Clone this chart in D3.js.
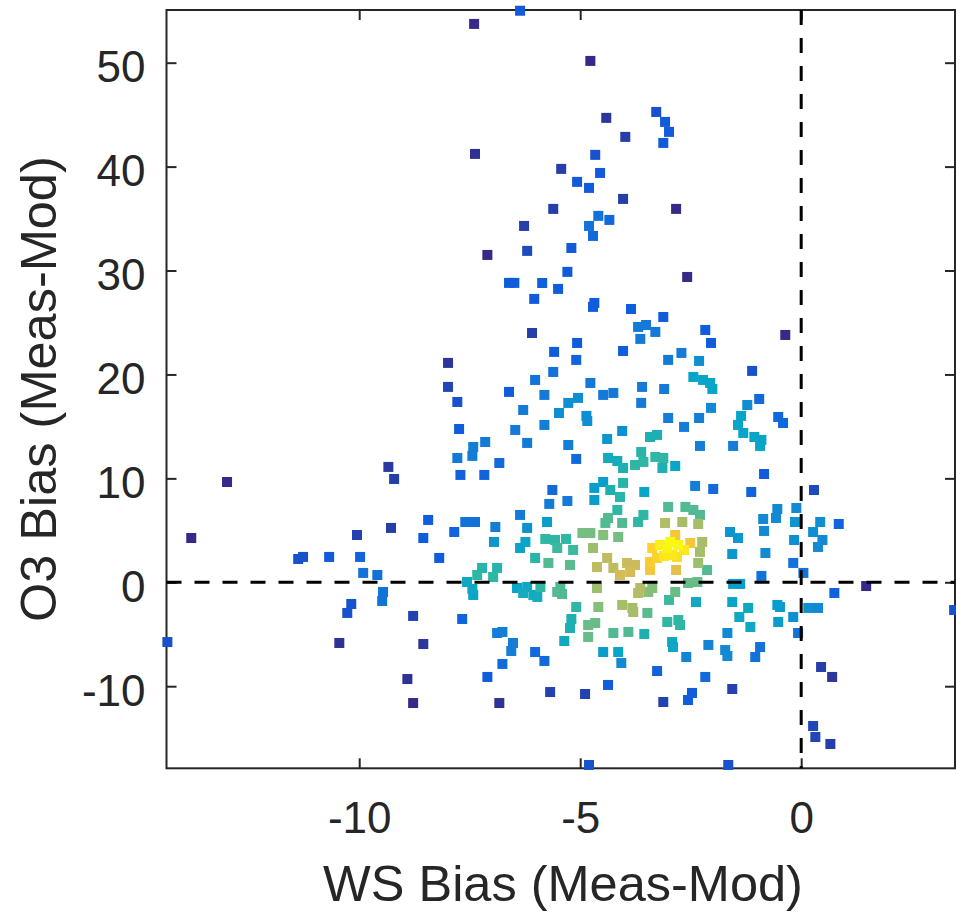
<!DOCTYPE html>
<html>
<head>
<meta charset="utf-8">
<script src="https://cdn.jsdelivr.net/npm/d3@7"></script>
<style>
  body { margin: 0; background: #fff; }
  svg { display: block; font-family: "Liberation Sans", Arial, Helvetica, sans-serif; }
</style>
</head>
<body>
<svg id="chart"></svg>
<script>
// WS bias vs O3 bias scatter, squares coloured by point density (parula-like)

const xTicks = [-10, -5, 0];
const yTicks = [-10, 0, 10, 20, 30, 40, 50];
const xLabel = "WS Bias (Meas-Mod)";
const yLabel = "O3 Bias (Meas-Mod)";

// x = WS bias, y = O3 bias, d = relative density (0..1)
const wsBias = [
  -7.40,-6.36,-4.77,-4.41,-3.98,-3.28,-3.08,-2.99,-3.12,-7.38,-4.66,-5.43,-4.55,-5.07,-4.80,-4.03,-2.83,-5.61,-4.59,-4.34,-4.80,-4.71,-6.27,-7.10,-6.20,-5.20,-5.29,-2.58,
  -6.61,-6.49,-5.86,-5.50,-6.04,-4.68,-4.71,-3.85,-3.12,-3.69,-3.51,-3.30,-3.64,-6.09,-5.07,-5.59,-5.09,-4.03,-3.01,-2.71,-2.31,-2.17,-2.04,-0.36,-1.11,-5.61,-6.02,-4.77,-6.61,-5.81,-4.48,-4.25,-3.60,-3.10,-2.44,-2.22,-2.06,-2.01,-6.29,-5.27,-5.05,-5.48,-4.86,-4.84,-5.81,-6.47,-4.05,-3.62,-3.01,-2.65,-2.31,-2.04,-0.95,-1.22,-1.36,-1.43,-1.31,-1.06,-0.90,-0.93,-0.52,-0.41,-1.54,-2.29,-3.42,-3.26,-7.99,-7.99,-7.78,-7.74,-4.39,-5.27,-6.20,
  -7.78,-7.71,-7.17,-7.15,-7.42,-7.44,-6.83,-9.34,-9.21,-8.44,-8.55,-9.28,-7.85,-7.60,-7.38,-6.92,-6.95,-8.19,-9.59,-9.46,-9.48,-7.22,-6.88,-7.33,-6.97,-7.56,-7.44,-6.36,-6.20,-6.36,-6.43,-5.09,-4.37,-4.16,-4.03,-3.62,-3.76,-3.57,-3.30,-3.12,-3.14,-5.63,-5.70,-5.29,-4.68,-4.48,-4.68,-4.32,-4.10,-4.03,-3.55,-4.16,-4.43,-4.37,-4.05,-3.69,-3.57,-3.08,-3.01,-5.75,-6.24,-5.79,-5.57,-5.32,-5.52,-5.16,-4.95,-4.77,-4.48,-4.14,-4.71,-6.02,-5.72,-5.23,-4.39,-4.62,-4.25,-3.94,-3.76,-4.10,-3.87,-3.37,-3.42,-3.42,-3.19,-3.03,-2.92,-5.90,-5.45,-4.62,-3.64,-3.37,-6.20,-2.85,-2.40,-1.99,-0.84,-1.13,0.29,-0.54,-0.57,-0.86,-0.84,-0.11,-0.14,0.43,0.27,0.48,0.38,-0.16,-1.61,-1.43,-1.56,-0.81,-0.18,0.05,-0.90,-1.54,-1.38,-2.62,-2.44,-2.29,-2.69,-2.33,-2.85,-2.51,-2.24,-2.29,-2.33,-2.13,-2.83,-2.56,-2.35,-2.85,
  -2.96,-2.78,-2.65,-3.10,-2.81,-3.26,
  0.85,1.47,3.46,-12.99,-13.80,-10.05,-11.38,-11.27,-10.68,-9.98,-9.91,-10.27,-10.18,-8.78,-8.55,-10.45,-8.91,-8.78,-14.34,
  -7.67,-7.42,-6.88,-6.76,-6.52,-6.56,-6.76,-7.10,-6.83,-6.02,-5.81,-5.68,-4.89,-4.80,-6.29,-6.06,-5.97,-5.52,-5.41,-5.09,-5.20,-5.23,-5.36,-4.82,-4.66,-4.82,-4.59,-4.05,-3.82,-3.80,-3.69,-3.46,-3.48,-2.99,-3.03,-2.78,-2.74,-2.38,-4.25,-3.91,-3.55,-2.92,-2.90,-4.48,-4.14,-4.07,-2.60,-2.10,-1.72,-1.67,-1.56,-1.20,-1.40,-1.15,-1.67,-0.54,-0.48,-0.52,-0.18,0.16,0.38,-0.07,-0.93,-1.04,-3.26,-2.17,-4.37,-2.47,-2.56,-1.56,-3.12,-1.65,0.45,0.70,0.27,0.32,0.66,0.75
];

const o3Bias = [
  53.73,55.0,50.17,44.69,42.86,45.26,44.30,43.34,42.28,41.22,41.13,39.78,39.39,38.53,37.95,36.89,35.93,35.93,35.26,34.87,34.29,33.33,34.29,31.50,31.89,32.17,29.87,29.38,
  28.81,28.81,28.80,28.23,27.27,26.88,26.50,26.30,25.53,24.57,24.76,24.09,23.42,23.99,23.03,22.17,21.40,22.26,21.40,22.07,21.30,24.28,23.03,23.80,20.34,20.24,19.47,19.18,18.32,18.03,18.03,18.22,18.80,18.60,19.76,19.47,19.18,18.60,16.58,17.26,17.74,16.29,16.01,15.52,15.14,14.66,14.56,17.26,15.81,14.95,15.81,16.78,17.64,17.06,16.01,15.14,14.37,13.98,13.70,13.12,15.91,15.33,13.12,13.12,13.98,14.18,21.11,18.80,17.35,14.75,13.79,13.21,13.41,
  11.96,10.33,10.33,13.50,13.02,12.16,11.48,11.10,9.94,6.00,4.26,5.23,4.84,5.80,5.80,5.32,3.88,2.34,0.70,-0.93,-1.80,1.38,1.38,0.70,0.51,0.03,-0.64,6.48,5.23,3.30,-0.55,11.87,11.96,11.67,11.00,12.54,11.29,11.58,12.06,11.96,11.00,8.88,7.54,7.82,9.08,9.65,7.92,8.88,8.21,9.56,8.69,6.96,5.71,6.19,5.71,5.80,6.48,5.71,7.25,5.80,3.88,4.17,4.07,4.17,3.30,3.11,4.74,4.74,4.55,4.36,3.30,2.34,1.86,1.67,2.34,1.47,1.38,1.86,1.67,0.70,0.99,3.30,1.95,1.18,3.59,3.30,2.63,-0.45,-0.45,-0.55,-0.55,-0.55,-0.45,11.19,9.27,8.98,10.42,8.69,8.88,7.05,6.19,6.09,4.94,7.15,5.80,5.80,4.84,4.07,3.40,4.07,4.84,4.26,2.72,2.82,1.86,0.90,0.61,-0.16,-0.16,7.25,6.96,6.48,5.80,5.61,4.55,3.78,3.88,2.92,1.86,1.18,1.18,-0.07,0.03,-0.93,
  3.88,3.59,3.11,2.53,2.44,2.34,
  5.61,-0.36,-2.67,9.65,4.26,4.55,2.24,2.44,2.44,2.44,0.90,-2.95,-2.09,-3.24,-5.94,-5.84,-9.31,-11.62,-5.75,
  -3.53,-1.22,-4.88,-4.78,-5.84,-6.61,-7.86,-9.11,-11.62,-6.71,-7.57,-10.56,-10.75,-17.58,-1.03,-1.22,-1.41,-0.93,-1.13,-2.38,-3.53,-4.40,-5.65,-4.11,-3.92,-5.26,-2.38,-2.18,-2.47,-2.86,-1.03,-0.93,-2.95,-1.70,-3.82,-3.63,-4.11,-1.90,-4.88,-4.78,-4.98,-5.75,-6.23,-6.71,-6.71,-7.77,-7.19,-6.03,-6.52,-7.09,-1.90,-2.47,-3.34,-4.30,-4.88,-2.18,-2.38,-3.82,-3.34,-2.47,-2.47,-4.88,-6.23,-7.19,-8.54,-9.11,-9.88,-10.65,-11.33,-10.27,-11.52,-17.58,-8.15,-9.11,-13.83,-14.89,-15.56,-1.03
];

const density = [
  0,.12,0,.03,.05,.1,.12,.12,.12,.02,.1,.05,.12,.12,.12,.05,0,.05,.2,.17,.2,.17,.05,0,.08,.12,.12,0,
  .13,.13,.14,.13,.12,.13,.13,.13,.13,.23,.23,.23,.23,.05,.13,.13,.15,.13,.23,.23,.3,.13,.13,0,.1,.2,.2,.23,.12,.23,.23,.23,.23,.23,.38,.38,.38,.38,.23,.3,.3,.3,.3,.3,.24,.23,.3,.23,.24,.24,.24,.28,.17,.3,.38,.38,.38,.38,.38,.38,.16,.16,.24,.24,.45,.45,.03,.07,.1,.13,.33,.24,.23,
  .23,.15,.15,.23,.24,.24,.17,.04,.05,.13,.13,.05,.15,.2,.2,.24,.33,.13,.2,.2,.2,.48,.48,.5,.5,.4,.4,.23,.3,.38,.38,.17,.42,.42,.45,.48,.5,.5,.5,.5,.45,.17,.23,.23,.35,.35,.35,.45,.48,.48,.38,.5,.55,.55,.55,.5,.5,.7,.55,.35,.38,.5,.5,.5,.52,.52,.6,.6,.62,.6,.66,.48,.55,.56,.72,.72,.72,.74,.74,.76,.76,.9,.88,.85,.97,.98,.95,.5,.55,.66,.7,.62,.4,.38,.24,.17,.13,.15,.08,.28,.28,.28,.28,.28,.33,.3,.3,.28,.28,.3,.32,.32,.33,.28,.2,.2,.2,.35,.35,.55,.55,.55,.68,.68,.85,.85,.68,.68,.66,.55,.8,.58,.58,.58,
  1,.99,.95,.95,.93,.9,
  .15,0,.1,0,0,.06,.1,.1,.12,.15,.2,.1,.1,.06,.03,.02,.02,0,.1,
  .15,.38,.24,.24,.24,.24,.18,.13,.02,.17,.17,.06,.06,.1,.42,.42,.42,.55,.55,.5,.45,.45,.4,.58,.58,.58,.62,.68,.68,.68,.7,.62,.56,.52,.5,.5,.5,.4,.55,.55,.45,.4,.4,.35,.38,.28,.26,.26,.28,.28,.38,.4,.4,.4,.28,.35,.35,.35,.3,.3,.28,.2,.2,.2,.15,.17,.13,.13,.13,.06,.06,.1,.05,.03,.07,.07,.05,.15
];

const parula = ["#352a87", "#0f5cdd", "#1481d6", "#06a4ca", "#2eb7a4",
                "#87bf77", "#d1bb59", "#fec832", "#f9fb0e"];

const width = 956;
const height = 913;
const plotLeft = 166.5, plotRight = 955, plotTop = 10, plotBottom = 768.3;

const svg = d3.select("#chart")
  .attr("width", width)
  .attr("height", height);

const x = d3.scaleLinear().domain([-14.36, 3.48]).range([plotLeft, plotRight]);
const y = d3.scaleLinear().domain([-17.9, 55.07]).range([plotBottom, plotTop]);
const color = d3.scaleLinear()
  .domain(d3.range(parula.length).map(i => i / (parula.length - 1)))
  .range(parula)
  .clamp(true);

const axisColor = "#262626";
const plainNumber = d => String(d); // keep ASCII hyphen like the original

// --- axes box with inward ticks on all four sides ---
svg.append("rect")
  .attr("x", plotLeft).attr("y", plotTop)
  .attr("width", plotRight - plotLeft).attr("height", plotBottom - plotTop)
  .attr("fill", "none")
  .attr("stroke", axisColor)
  .attr("stroke-width", 2);

function styleAxis(g, showText) {
  g.select(".domain").remove();
  g.selectAll(".tick line").attr("stroke", axisColor).attr("stroke-width", 2);
  g.selectAll("text")
    .attr("fill", axisColor)
    .style("font-size", "44px")
    .style("display", showText ? null : "none");
}

svg.append("g")
  .attr("transform", `translate(0,${plotBottom})`)
  .call(d3.axisBottom(x).tickValues(xTicks).tickFormat(plainNumber)
    .tickSizeInner(-10).tickSizeOuter(0).tickPadding(33))
  .call(g => styleAxis(g, true));

svg.append("g")
  .attr("transform", `translate(0,${plotTop})`)
  .call(d3.axisTop(x).tickValues(xTicks).tickSizeInner(-10).tickSizeOuter(0))
  .call(g => styleAxis(g, false));

svg.append("g")
  .attr("transform", `translate(${plotLeft},0)`)
  .call(d3.axisLeft(y).tickValues(yTicks).tickFormat(plainNumber)
    .tickSizeInner(-10).tickSizeOuter(0).tickPadding(21))
  .call(g => styleAxis(g, true))
  .call(g => g.selectAll("text").attr("dy", "0.43em"));

svg.append("g")
  .attr("transform", `translate(${plotRight},0)`)
  .call(d3.axisRight(y).tickValues(yTicks).tickSizeInner(-10).tickSizeOuter(0))
  .call(g => styleAxis(g, false));

// --- points, lowest density first so the dense core sits on top ---
const points = wsBias.map((v, i) => ({ x: v, y: o3Bias[i], d: density[i] }))
  .sort((a, b) => a.d - b.d);

const size = 10;
svg.append("g")
  .selectAll("rect")
  .data(points)
  .join("rect")
  .attr("x", d => x(d.x) - size / 2)
  .attr("y", d => y(d.y) - size / 2)
  .attr("width", size)
  .attr("height", size)
  .attr("fill", d => color(d.d));

// --- zero reference lines ---
svg.append("line")
  .attr("x1", plotLeft).attr("x2", plotRight)
  .attr("y1", y(0)).attr("y2", y(0))
  .attr("stroke", "#000").attr("stroke-width", 3)
  .attr("stroke-dasharray", "15,13");

svg.append("line")
  .attr("x1", x(0)).attr("x2", x(0))
  .attr("y1", plotTop).attr("y2", plotBottom)
  .attr("stroke", "#000").attr("stroke-width", 3)
  .attr("stroke-dasharray", "15,13");

// --- axis labels ---
svg.append("text")
  .attr("x", 563).attr("y", 901)
  .attr("text-anchor", "middle")
  .attr("fill", axisColor)
  .style("font-size", "50.5px")
  .text(xLabel);

svg.append("text")
  .attr("transform", `translate(56,${(plotTop + plotBottom) / 2}) rotate(-90)`)
  .attr("text-anchor", "middle")
  .attr("fill", axisColor)
  .style("font-size", "50.5px")
  .text(yLabel);
</script>
</body>
</html>
